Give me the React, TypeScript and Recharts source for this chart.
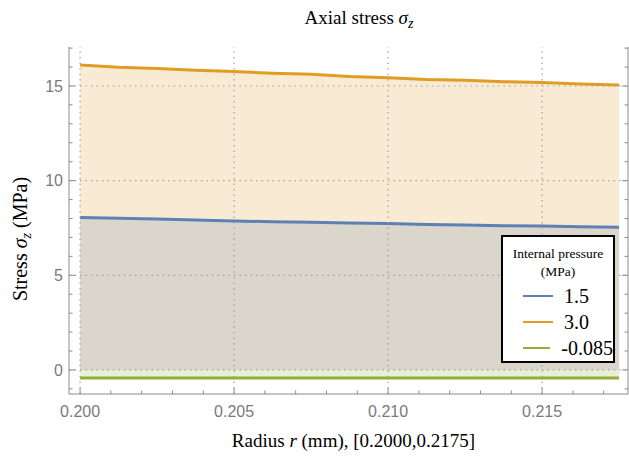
import React from 'react';
import { ComposedChart, Area, XAxis, YAxis, ReferenceLine, Legend, Label } from 'recharts';

// radius (mm) sample points
const radius = [0.2, 0.20125, 0.2025, 0.20375, 0.205, 0.20625, 0.2075, 0.20875, 0.21, 0.21125, 0.2125, 0.21375, 0.215, 0.21625, 0.2175];
// axial stress for each internal pressure (MPa)
const stressP15 = [8.06, 8.01, 7.98, 7.92, 7.87, 7.83, 7.8, 7.76, 7.73, 7.69, 7.66, 7.62, 7.6, 7.57, 7.54];
const stressP30 = [16.11, 15.99, 15.93, 15.83, 15.76, 15.67, 15.62, 15.5, 15.44, 15.34, 15.3, 15.23, 15.18, 15.11, 15.05];
const stressPneg = [-0.42, -0.42, -0.42, -0.42, -0.42, -0.42, -0.42, -0.42, -0.42, -0.42, -0.42, -0.42, -0.42, -0.42, -0.42];

const legendLabels = ['1.5', '3.0', '-0.085'];
const seriesColors = ['#5e81b5', '#e19c24', '#8fb032'];

const xMajor = [0.2, 0.205, 0.21, 0.215];
const xTickLabels = ['0.200', '0.205', '0.210', '0.215'];
const xMinor = [0.2, 0.201, 0.202, 0.203, 0.204, 0.205, 0.206, 0.207, 0.208, 0.209, 0.21, 0.211, 0.212, 0.213, 0.214, 0.215, 0.216, 0.217];
const yMajor = [0, 5, 10, 15];
const yTickLabels = ['0', '5', '10', '15'];
const yMinor = [-1, 0, 1, 2, 3, 4, 5, 6, 7, 8, 9, 10, 11, 12, 13, 14, 15, 16, 17];

const xDomain = [0.19964, 0.21779];
const yDomain = [-1.27, 17.06];

const data = radius.map((r, i) => ({
  r,
  p15: stressP15[i],
  p30: stressP30[i],
  pneg: stressPneg[i],
}));

const frame = '#8a8a8a';
const tickText = '#7a7a7a';
const serif = '"Liberation Serif", "DejaVu Serif", serif';
const sans = '"Liberation Sans", Arial, sans-serif';

const majorIndex = (v: number, majors: number[]) => majors.findIndex((m) => Math.abs(m - v) < 1e-9);

function BottomTick({ x, y, payload }: any) {
  const i = majorIndex(payload.value, xMajor);
  return (
    <g>
      <line x1={x} x2={x} y1={y} y2={y - (i >= 0 ? 6 : 3.5)} stroke={frame} />
      {i >= 0 && (
        <text x={x} y={y + 23} textAnchor="middle" fill={tickText} fontSize={16} fontFamily={sans}>
          {xTickLabels[i]}
        </text>
      )}
    </g>
  );
}

function TopTick({ x, y, payload }: any) {
  const i = majorIndex(payload.value, xMajor);
  return <line x1={x} x2={x} y1={y} y2={y + (i >= 0 ? 6 : 3.5)} stroke={frame} />;
}

function LeftTick({ x, y, payload }: any) {
  const i = majorIndex(payload.value, yMajor);
  return (
    <g>
      <line x1={x} x2={x + (i >= 0 ? 6 : 3.5)} y1={y} y2={y} stroke={frame} />
      {i >= 0 && (
        <text x={x - 6} y={y} dy="0.35em" textAnchor="end" fill={tickText} fontSize={16} fontFamily={sans}>
          {yTickLabels[i]}
        </text>
      )}
    </g>
  );
}

function RightTick({ x, y, payload }: any) {
  const i = majorIndex(payload.value, yMajor);
  return <line x1={x} x2={x - (i >= 0 ? 6 : 3.5)} y1={y} y2={y} stroke={frame} />;
}

function XTitle({ viewBox }: any) {
  const cx = viewBox.x + viewBox.width / 2 + 5;
  return (
    <text x={cx} y={viewBox.y + 53} textAnchor="middle" fontSize={19} fontFamily={serif} fill="#000">
      Radius <tspan fontStyle="italic">r</tspan> (mm), [0.2000,0.2175]
    </text>
  );
}

// y-axis title plus the chart title
function YTitle() {
  return (
    <g>
      <text x={359} y={24} textAnchor="middle" fontSize={19} fontFamily={serif} fill="#000">
        Axial stress <tspan fontStyle="italic">σ</tspan>
        <tspan fontStyle="italic" fontSize={14} dy={4}>z</tspan>
      </text>
      <text x={0} y={0} transform="translate(27,239) rotate(-90)" textAnchor="middle" fontSize={20} fontFamily={serif} fill="#000">
        Stress <tspan fontStyle="italic">σ</tspan>
        <tspan fontStyle="italic" fontSize={14} dy={4}>z</tspan>
        <tspan dy={-4}> (MPa)</tspan>
      </text>
    </g>
  );
}

function LegendBox() {
  return (
    <div
      style={{
        boxSizing: 'border-box',
        width: 114,
        height: 128,
        border: '2px solid #000',
        background: '#fff',
        fontFamily: serif,
        color: '#000',
        paddingTop: 8,
      }}
    >
      <div style={{ textAlign: 'center', fontSize: 13.5, lineHeight: '18px' }}>Internal pressure</div>
      <div style={{ textAlign: 'center', fontSize: 13.5, lineHeight: '18px', marginBottom: 2 }}>(MPa)</div>
      {legendLabels.map((lab, i) => (
        <div key={lab} style={{ display: 'flex', alignItems: 'center', height: 26 }}>
          <span style={{ display: 'inline-block', width: 30, height: 2, background: seriesColors[i], marginLeft: 20, marginRight: 11 }} />
          <span style={{ fontSize: 20 }}>{lab}</span>
        </div>
      ))}
    </div>
  );
}

export default function App() {
  return (
    <div style={{ position: 'absolute', left: 0, top: 0, background: '#fff' }}>
      <ComposedChart width={629} height={456} data={data} margin={{ top: 47, right: 0, bottom: 0, left: 0 }}>
        <XAxis
          xAxisId="b"
          dataKey="r"
          type="number"
          domain={xDomain}
          allowDataOverflow
          ticks={xMinor}
          interval={0}
          tickSize={0}
          tickMargin={0}
          tick={<BottomTick />}
          axisLine={{ stroke: frame }}
          height={62}
        >
          <Label content={<XTitle />} />
        </XAxis>
        <XAxis
          xAxisId="t"
          orientation="top"
          dataKey="r"
          type="number"
          domain={xDomain}
          allowDataOverflow
          ticks={xMinor}
          interval={0}
          tickSize={0}
          tickMargin={0}
          tick={<TopTick />}
          axisLine={{ stroke: frame }}
          height={0}
        />
        <YAxis
          yAxisId="l"
          type="number"
          domain={yDomain}
          allowDataOverflow
          ticks={yMinor}
          interval={0}
          tickSize={0}
          tickMargin={0}
          tick={<LeftTick />}
          axisLine={{ stroke: frame }}
          width={69}
        >
          <Label content={<YTitle />} />
        </YAxis>
        <YAxis
          yAxisId="r"
          orientation="right"
          type="number"
          domain={yDomain}
          allowDataOverflow
          ticks={yMinor}
          interval={0}
          tickSize={0}
          tickMargin={0}
          tick={<RightTick />}
          axisLine={{ stroke: frame }}
          width={1}
        />
        <Area
          xAxisId="b"
          yAxisId="l"
          type="linear"
          dataKey="p30"
          name={legendLabels[1]}
          baseValue={0}
          stroke={seriesColors[1]}
          strokeWidth={3}
          fill={seriesColors[1]}
          fillOpacity={0.2}
          dot={false}
          activeDot={false}
          isAnimationActive={false}
        />
        <Area
          xAxisId="b"
          yAxisId="l"
          type="linear"
          dataKey="p15"
          name={legendLabels[0]}
          baseValue={0}
          stroke={seriesColors[0]}
          strokeWidth={3}
          fill={seriesColors[0]}
          fillOpacity={0.2}
          dot={false}
          activeDot={false}
          isAnimationActive={false}
        />
        <Area
          xAxisId="b"
          yAxisId="l"
          type="linear"
          dataKey="pneg"
          name={legendLabels[2]}
          baseValue={0}
          stroke={seriesColors[2]}
          strokeWidth={3}
          fill={seriesColors[2]}
          fillOpacity={0.2}
          dot={false}
          activeDot={false}
          isAnimationActive={false}
        />
        {xMajor.map((v) => (
          <ReferenceLine key={'x' + v} xAxisId="b" yAxisId="l" x={v} stroke="#a0a0a0" strokeWidth={1.2} strokeDasharray="1.5 4" />
        ))}
        {yMajor.map((v) => (
          <ReferenceLine key={'y' + v} xAxisId="b" yAxisId="l" y={v} stroke="#a0a0a0" strokeWidth={1.2} strokeDasharray="1.5 4" />
        ))}
        <Legend
          layout="vertical"
          align="center"
          verticalAlign="middle"
          content={<LegendBox />}
          wrapperStyle={{ left: 501, top: 235, width: 114, height: 128 }}
        />
      </ComposedChart>
    </div>
  );
}
